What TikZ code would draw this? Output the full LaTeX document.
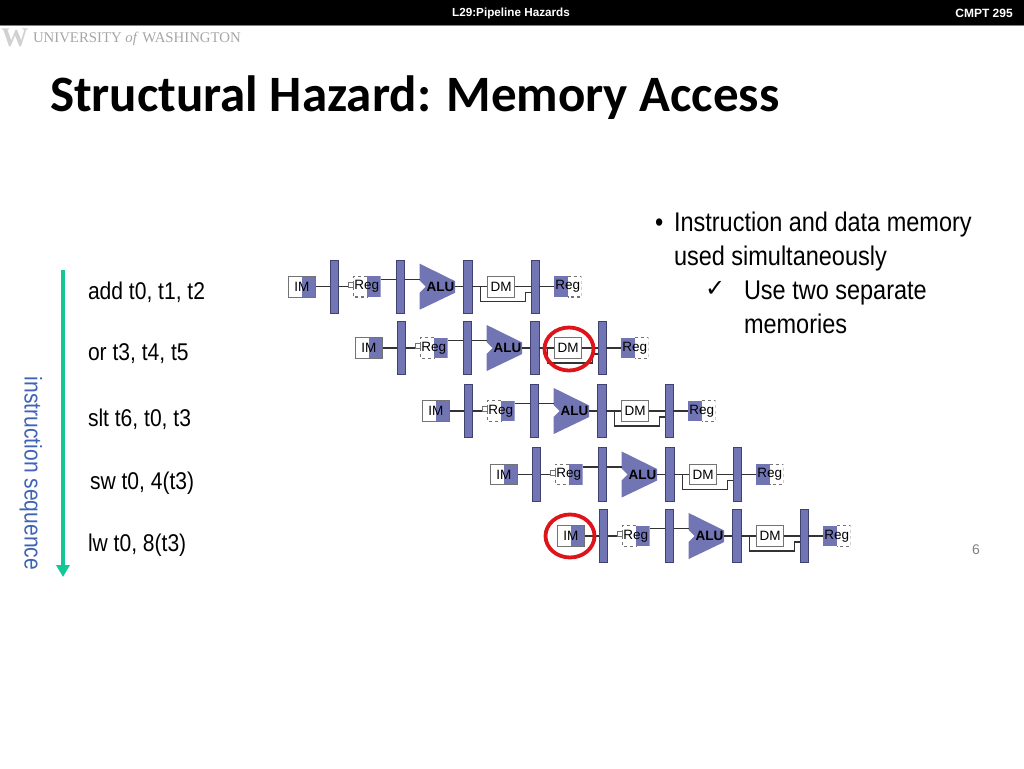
\documentclass[tikz,border=0pt]{standalone}
\usepackage{fontspec}
\setmainfont{Liberation Sans}
\newfontfamily\titlefont{Carlito}
\newfontfamily\bodyfont{Liberation Sans}[FakeStretch=0.87]
\newfontfamily\logofont{Liberation Serif}
\newfontfamily\tickfont{DejaVu Sans}
\usetikzlibrary{shapes, arrows.meta, positioning, calc}
\definecolor{pipefill}{HTML}{7275B3}
\definecolor{pipeline}{HTML}{3F4270}
\definecolor{seqgreen}{HTML}{12C795}
\definecolor{seqblue}{HTML}{3F63B5}
\definecolor{hazred}{HTML}{DD1419}

\begin{document}
\begin{tikzpicture}[
    x=1pt, y=-1pt,
    >=Stealth,
    every node/.style={inner sep=0pt, outer sep=0pt},
    wire/.style={draw=black!80, line width=1.2pt},
    stage/.style={minimum width=27.5pt, minimum height=20.6pt, font=\fontsize{13.5}{14}\selectfont},
    plainbox/.style={stage, draw=black!55, line width=0.8pt},
    halfright/.style={plainbox, path picture={\fill[pipefill] (path picture bounding box.north) rectangle (path picture bounding box.south east);}},
    regright/.style={stage, path picture={\fill[pipefill] (path picture bounding box.north) rectangle (path picture bounding box.south east);
        \draw[black!55, dashed, line width=1.4pt] (path picture bounding box.north) -| (path picture bounding box.west) |- (path picture bounding box.south);}},
    regleft/.style={stage, path picture={\fill[pipefill] (path picture bounding box.north west) rectangle (path picture bounding box.south);
        \draw[black!55, dashed, line width=1.4pt] (path picture bounding box.north) -| (path picture bounding box.east) |- (path picture bounding box.south);}},
    latch/.style={draw=pipeline, fill=pipefill, line width=0.6pt, minimum width=8.6pt, minimum height=53.5pt},
    port/.style={draw=black!55, line width=0.5pt, minimum width=5pt, minimum height=5pt},
    alubox/.style={minimum width=35.5pt, minimum height=46pt, font=\bfseries\fontsize{13.5}{14}\selectfont,
        path picture={\fill[pipefill] (path picture bounding box.north west) -- ($(path picture bounding box.east)+(0,-5.5)$) -- ($(path picture bounding box.east)+(0,6)$) -- (path picture bounding box.south west) -- ($(path picture bounding box.west)+(0,6)$) -- ($(path picture bounding box.west)+(6,0)$) -- ($(path picture bounding box.west)+(0,-6)$) -- cycle;}},
    instr/.style={anchor=west, font=\bodyfont\fontsize{24.2}{24}\selectfont},
    hazard/.style={ellipse, draw=hazred, line width=3.8pt, minimum width=49pt, minimum height=43pt}
]
\useasboundingbox (0,0) rectangle (1024,768);

% header and logo
\fill[black] (0,0) rectangle (1024,25);
\draw[gray, line width=0.6pt] (0,25.3) -- (1024,25.3);
\node (Lecture) at (511,13) [text=white, font=\bfseries\fontsize{11.7}{12}\selectfont] {L29:Pipeline Hazards};
\node (Course) at (984,13) [text=white, font=\bfseries\fontsize{12}{12}\selectfont] {CMPT 295};
\node (LogoW) at (15,37.5) [text=black!18, font=\logofont\bfseries\fontsize{27}{27}\selectfont] {W};
\node (LogoText) at (33,38.5) [anchor=west, text=black!35, font=\logofont\fontsize{14.8}{16}\selectfont] {UNIVERSITY \textit{of} WASHINGTON};
\node (Title) at (50,97.5) [anchor=west, font=\titlefont\bfseries\fontsize{51}{51}\selectfont] {Structural Hazard: Memory Access};

% bullets
\node (Bullet) at (655,225) [anchor=west, font=\bodyfont\fontsize{27}{27}\selectfont] {•};
\node (Point) at (674,242) [anchor=west, align=left, font=\bodyfont\fontsize{27}{34}\selectfont] {Instruction and data memory\\used simultaneously};
\node (Tick) at (705,289) [anchor=west, font=\tickfont\bfseries\fontsize{24}{24}\selectfont] {✓};
\node (Subpoint) at (744,307) [anchor=west, align=left, font=\bodyfont\fontsize{27}{34}\selectfont] {Use two separate\\memories};
\node (PageNo) at (976,550) [text=black!50, font=\fontsize{14}{14}\selectfont] {6};

% instruction sequence
\coordinate (SeqTop) at (63,270);
\coordinate (SeqEnd) at (63,577);
\draw[-{Triangle[length=12pt, width=13pt]}, seqgreen, line width=4.5pt] (SeqTop) -- (SeqEnd);
\node (SeqLabel) at (31,473.5) [rotate=-90, text=seqblue, font=\bodyfont\fontsize{24.2}{24}\selectfont] {instruction sequence};

\node (I1) at (88,292) [instr] {add t0, t1, t2};
\node (I2) at (88,354) [instr] {or t3, t4, t5};
\node (I3) at (88,419) [instr] {slt t6, t0, t3};
\node (I4) at (90,483) [instr] {sw t0, 4(t3)};
\node (I5) at (88,545) [instr] {lw t0, 8(t3)};

% one pipeline per instruction
\foreach \r/\x/\y in {1/288/286.7, 2/355/348, 3/422/411, 4/490/474.5, 5/557/536} {
    \node (im\r) at (\x,\y) [halfright, anchor=west] {IM};
    \node (a\r) [right=14.5pt of im\r, latch] {};
    \node (reg\r) [right=14.5pt of a\r, regright] {Reg};
    \node (port\r) [left=0pt of reg\r, yshift=2.2pt, port] {};
    \node (b\r) [right=15.5pt of reg\r, latch] {};
    \node (alu\r) [right=15pt of b\r, alubox] {\hspace{6pt}ALU};
    \node (c\r) [right=8pt of alu\r, latch] {};
    \node (dm\r) [right=15.5pt of c\r, plainbox] {DM};
    \node (d\r) [right=16pt of dm\r, latch] {};
    \node (wb\r) [right=14.5pt of d\r, regleft] {Reg};

    \draw[wire] (im\r) -- (a\r);
    \draw[wire] (a\r) -- (port\r.south west |- a\r);
    \draw[wire] ($(reg\r.east)+(0,-7.5)$) -- ($(b\r.west)+(0,-7.5)$);
    \draw[wire] ($(b\r.east)+(0,-7.5)$) -- ($(alu\r.west)+(0,-7.5)$);
    \draw[wire] (alu\r) -- (c\r);
    \draw[wire] (c\r) -- (dm\r);
    \draw[wire] (dm\r) -- (d\r);
    \draw[wire] (d\r) -- (wb\r);
    \draw[wire] ($(c\r.east)+(9,0)$) |- ($(d\r.west)+(-5,15)$) |- ($(d\r.west)+(0,6)$);
}

\node (HazDM) at (569,349) [hazard] {};
\node (HazIM) at (570,536) [hazard] {};

\end{tikzpicture}
\end{document}
